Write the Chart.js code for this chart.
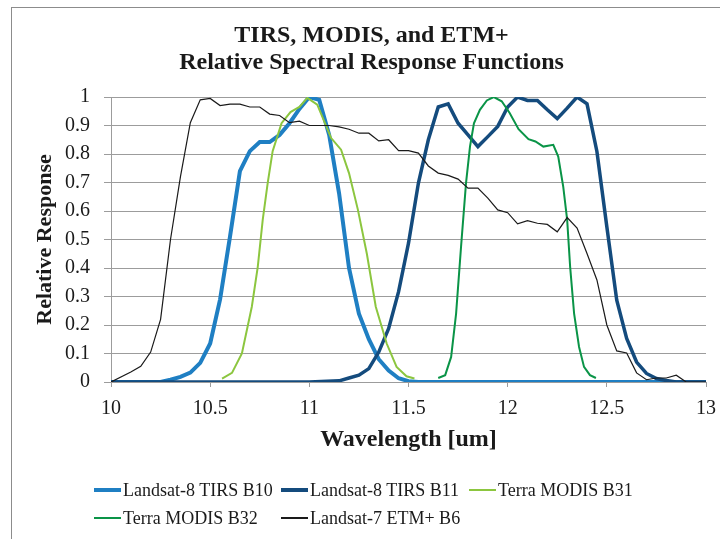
<!DOCTYPE html>
<html>
<head>
<meta charset="utf-8">
<script src="https://cdn.jsdelivr.net/npm/chart.js@4/dist/chart.umd.min.js"></script>
<style>
    html, body { margin: 0; padding: 0; background: #fff; overflow: hidden; }
    #wrap { position: relative; width: 720px; height: 539px; overflow: hidden; }
    #frame { position: absolute; left: 11px; top: 7px; width: 760px; height: 600px; border: 1px solid #8c8c8c; }
    #grafico { position: absolute; left: 0; top: 0; }
    #legenda {
        position: absolute; left: 94px; top: 476px;
        display: grid; grid-template-columns: 187px 188px auto; grid-auto-rows: 28px;
        font-family: 'Liberation Serif', serif; font-size: 18px; color: #1a1a1a;
    }
    #legenda .item { display: flex; align-items: center; white-space: nowrap; }
    #legenda .line { width: 27px; margin-right: 2px; }
</style>
</head>
<body>
<div id="wrap">
    <div id="frame"></div>
    <canvas id="grafico" width="720" height="539"></canvas>
    <div id="legenda"></div>
</div>
<script>
// Wavelength (um) and relative response
const b10Wl = [10.0, 10.25, 10.3, 10.35, 10.4, 10.45, 10.5, 10.55, 10.6, 10.65, 10.7, 10.75, 10.8, 10.85, 10.9, 10.95, 11.0, 11.05, 11.1, 11.15, 11.2, 11.25, 11.3, 11.35, 11.4, 11.45, 11.5, 11.55, 11.8, 12.0, 12.35, 12.6, 13.0];
const b10Resp = [0, 0, 0.008, 0.018, 0.033, 0.067, 0.135, 0.29, 0.51, 0.74, 0.81, 0.842, 0.842, 0.867, 0.908, 0.958, 1.0, 0.99, 0.867, 0.662, 0.40, 0.24, 0.15, 0.08, 0.04, 0.013, 0.003, 0, 0, 0, 0, 0, 0];

const b11Wl = [10.0, 10.7, 10.85, 11.0, 11.15, 11.2, 11.25, 11.3, 11.35, 11.4, 11.45, 11.5, 11.55, 11.6, 11.65, 11.7, 11.75, 11.8, 11.85, 11.9, 11.95, 12.0, 12.05, 12.1, 12.15, 12.2, 12.25, 12.3, 12.35, 12.4, 12.45, 12.5, 12.55, 12.6, 12.65, 12.7, 12.75, 12.8, 12.85, 13.0];
const b11Resp = [0, 0, 0, 0, 0.004, 0.014, 0.024, 0.047, 0.105, 0.188, 0.317, 0.487, 0.698, 0.85, 0.965, 0.976, 0.908, 0.867, 0.826, 0.861, 0.897, 0.965, 1.0, 0.988, 0.988, 0.955, 0.924, 0.961, 1.0, 0.976, 0.809, 0.545, 0.287, 0.153, 0.07, 0.03, 0.012, 0.005, 0, 0];

const b31Wl = [10.56, 10.61, 10.66, 10.71, 10.74, 10.765, 10.79, 10.815, 10.86, 10.905, 10.95, 10.99, 11.04, 11.11, 11.16, 11.2, 11.245, 11.29, 11.335, 11.39, 11.44, 11.49, 11.53];
const b31Resp = [0.012, 0.032, 0.10, 0.264, 0.404, 0.569, 0.698, 0.81, 0.908, 0.947, 0.965, 0.997, 0.973, 0.856, 0.815, 0.733, 0.604, 0.45, 0.264, 0.135, 0.053, 0.02, 0.012];

const b32Wl = [11.65, 11.685, 11.715, 11.74, 11.765, 11.79, 11.81, 11.83, 11.86, 11.895, 11.93, 11.97, 12.01, 12.055, 12.105, 12.14, 12.18, 12.23, 12.255, 12.28, 12.3, 12.315, 12.335, 12.36, 12.385, 12.415, 12.445];
const b32Resp = [0.014, 0.024, 0.088, 0.24, 0.475, 0.698, 0.826, 0.908, 0.955, 0.988, 1.0, 0.985, 0.944, 0.887, 0.852, 0.844, 0.826, 0.832, 0.791, 0.686, 0.569, 0.404, 0.24, 0.123, 0.053, 0.024, 0.014];

const etmWl = [10.0, 10.1, 10.15, 10.2, 10.25, 10.3, 10.35, 10.4, 10.45, 10.5, 10.55, 10.6, 10.65, 10.7, 10.75, 10.8, 10.85, 10.9, 10.95, 11.0, 11.05, 11.1, 11.15, 11.2, 11.25, 11.3, 11.35, 11.4, 11.45, 11.5, 11.55, 11.6, 11.65, 11.7, 11.75, 11.8, 11.85, 11.9, 11.95, 12.0, 12.05, 12.1, 12.15, 12.2, 12.25, 12.3, 12.35, 12.4, 12.45, 12.5, 12.55, 12.6, 12.65, 12.7, 12.75, 12.8, 12.85, 12.9, 13.0];
const etmResp = [0, 0.035, 0.055, 0.105, 0.22, 0.50, 0.72, 0.91, 0.99, 0.995, 0.97, 0.975, 0.975, 0.965, 0.965, 0.94, 0.935, 0.91, 0.915, 0.90, 0.90, 0.90, 0.895, 0.887, 0.873, 0.873, 0.846, 0.85, 0.812, 0.812, 0.803, 0.758, 0.733, 0.725, 0.712, 0.68, 0.68, 0.645, 0.604, 0.594, 0.555, 0.566, 0.557, 0.553, 0.527, 0.577, 0.54, 0.451, 0.358, 0.2, 0.109, 0.102, 0.032, 0.008, 0.014, 0.014, 0.024, 0, 0];

const seriesNames = ['Landsat-8 TIRS B10', 'Landsat-8 TIRS B11', 'Terra MODIS B31', 'Terra MODIS B32', 'Landsat-7 ETM+ B6'];

// Tick values and labels
const xTicks = [10, 10.5, 11, 11.5, 12, 12.5, 13];
const xTickLabels = ['10', '10.5', '11', '11.5', '12', '12.5', '13'];
const yTicks = [0, 0.1, 0.2, 0.3, 0.4, 0.5, 0.6, 0.7, 0.8, 0.9, 1];
const yTickLabels = ['0', '0.1', '0.2', '0.3', '0.4', '0.5', '0.6', '0.7', '0.8', '0.9', '1'];

const serif = "'Liberation Serif', serif";
const gridGray = '#9c9c9c';
const textColor = '#1a1a1a';

const pts = (xs, ys) => xs.map((x, i) => ({ x: x, y: ys[i] }));

// higher order = drawn first, so later series end up on top (like Excel)
const datasets = [
    { label: seriesNames[0], data: pts(b10Wl, b10Resp), borderColor: '#1f7fc3', borderWidth: 4, order: 5 },
    { label: seriesNames[1], data: pts(b11Wl, b11Resp), borderColor: '#144b7d', borderWidth: 3.5, order: 4 },
    { label: seriesNames[2], data: pts(b31Wl, b31Resp), borderColor: '#8cc63f', borderWidth: 2, order: 3 },
    { label: seriesNames[3], data: pts(b32Wl, b32Resp), borderColor: '#0a9447', borderWidth: 2, order: 2 },
    { label: seriesNames[4], data: pts(etmWl, etmResp), borderColor: '#1a1a1a', borderWidth: 1.2, order: 1 }
];
datasets.forEach(ds => {
    ds.pointRadius = 0;
    ds.tension = 0;
    ds.fill = false;
    ds.backgroundColor = ds.borderColor;
});

const chart = new Chart(document.getElementById('grafico'), {
    type: 'line',
    data: { datasets: datasets },
    options: {
        responsive: false,
        animation: false,
        devicePixelRatio: 1,
        layout: { padding: { left: 23, right: 0, top: 7, bottom: 81 } },
        plugins: {
            legend: { display: false },
            tooltip: { enabled: false },
            title: {
                display: true,
                text: ['TIRS, MODIS, and ETM+', 'Relative Spectral Response Functions'],
                color: textColor,
                font: { family: serif, size: 24, weight: 'bold', lineHeight: 1.125 },
                padding: { top: 15, bottom: 21 }
            }
        },
        scales: {
            x: {
                type: 'linear',
                min: 10,
                max: 13,
                afterBuildTicks: (axis) => { axis.ticks = xTicks.map(v => ({ value: v })); },
                afterFit: (axis) => {
                    axis.height = 76;
                    // let the plot run to the right edge, the "13" label has room
                    axis.paddingLeft = 0;
                    axis.paddingRight = 0;
                },
                ticks: {
                    callback: (v, i) => xTickLabels[i],
                    color: textColor,
                    padding: 10,
                    maxRotation: 0,
                    font: { family: serif, size: 20 }
                },
                grid: { drawOnChartArea: false, drawTicks: true, tickLength: 5, color: gridGray, lineWidth: 1 },
                border: { display: true, color: gridGray, width: 1 },
                title: {
                    display: true,
                    text: 'Wavelength [um]',
                    color: textColor,
                    font: { family: serif, size: 24, weight: 'bold' },
                    padding: { top: 4, bottom: 4 }
                }
            },
            y: {
                min: 0,
                max: 1,
                afterBuildTicks: (axis) => { axis.ticks = yTicks.map(v => ({ value: v })); },
                afterFit: (axis) => { axis.width = 88; },
                ticks: {
                    callback: (v, i) => yTickLabels[i],
                    color: textColor,
                    padding: 14,
                    font: { family: serif, size: 20 }
                },
                grid: { color: gridGray, lineWidth: 1, tickLength: 7 },
                border: { display: true, color: gridGray, width: 1 },
                title: {
                    display: true,
                    text: 'Relative Response',
                    color: textColor,
                    font: { family: serif, size: 22, weight: 'bold' },
                    padding: { top: 9, bottom: 0 }
                }
            },
            // empty right-hand axis, only keeps the plot off the right edge
            y2: {
                position: 'right',
                min: 0,
                max: 1,
                afterFit: (axis) => { axis.width = 14; },
                ticks: { display: false },
                grid: { display: false },
                border: { display: false }
            }
        }
    }
});

// Legend in columns like the original
const legenda = document.getElementById('legenda');
chart.data.datasets.forEach(ds => {
    const item = document.createElement('div');
    item.className = 'item';
    const line = document.createElement('span');
    line.className = 'line';
    line.style.height = Math.min(ds.borderWidth, 3.5) + 'px';
    line.style.background = ds.borderColor;
    const txt = document.createElement('span');
    txt.textContent = ds.label;
    item.appendChild(line);
    item.appendChild(txt);
    legenda.appendChild(item);
});
</script>
</body>
</html>
